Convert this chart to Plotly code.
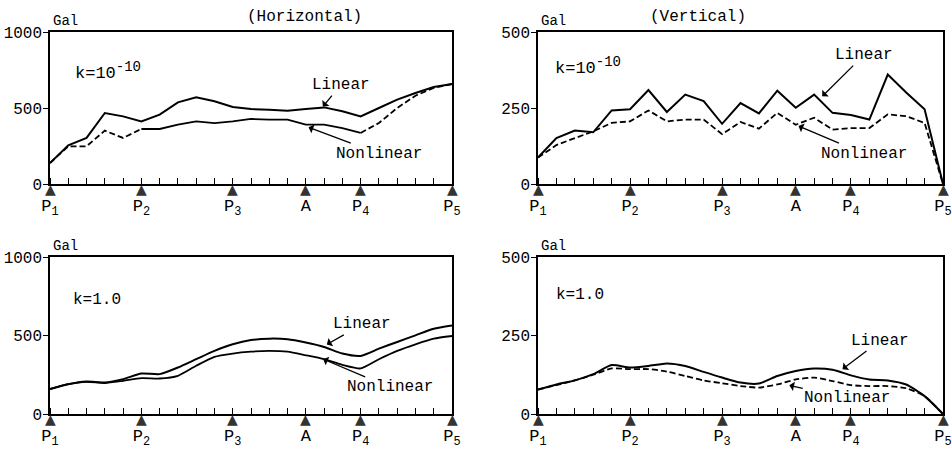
import plotly.graph_objects as go

# ---------------- data ----------------
nodes = list(range(23))
station_pos = [0, 5, 10, 14, 17, 22]
station_text = ["P<sub>1</sub>", "P<sub>2</sub>", "P<sub>3</sub>", "A", "P<sub>4</sub>", "P<sub>5</sub>"]

h_k10_linear = [138, 254, 303, 467, 445, 412, 456, 537, 570, 544, 507, 493, 489, 482, 493, 504, 478, 445, 500, 555, 599, 638, 658]
h_k10_nonlinear = [138, 248, 248, 351, 303, 362, 362, 390, 412, 401, 412, 428, 423, 423, 390, 390, 368, 336, 401, 500, 581, 632, 658]

v_k10_linear = [87, 151, 176, 170, 242, 246, 309, 237, 294, 273, 198, 266, 232, 307, 251, 294, 234, 227, 212, 360, 301, 246, 0]
v_k10_nonlinear = [87, 128, 151, 173, 201, 206, 242, 206, 212, 212, 164, 204, 182, 234, 195, 218, 179, 184, 184, 229, 223, 201, 0]

h_k1_linear = [159, 190, 207, 201, 222, 258, 254, 296, 349, 402, 444, 471, 480, 476, 455, 427, 385, 370, 416, 459, 501, 543, 564]
h_k1_nonlinear = [159, 190, 205, 197, 211, 228, 226, 243, 307, 364, 385, 397, 402, 397, 374, 349, 313, 290, 349, 402, 444, 480, 497]

v_k1_linear = [78, 94, 107, 127, 156, 148, 153, 161, 153, 134, 116, 100, 97, 121, 137, 145, 141, 123, 110, 107, 94, 57, 0]
v_k1_nonlinear = [78, 92, 107, 125, 145, 143, 143, 135, 121, 107, 98, 89, 84, 94, 110, 116, 105, 92, 89, 89, 82, 57, 0]

h_ticks = [0, 500, 1000]
v_ticks = [0, 250, 500]

# ---------------- layout geometry ----------------
W, H = 952, 450
FONT = "Liberation Mono, Courier New, monospace"
col_x = [(50, 452), (538, 943)]
row_y = [(32, 184), (257, 414)]
DASH = "6px,3px"

K10 = "k=10<sup><span style='font-size:14px'>-10</span></sup>"
panels = [
    (0, 0, h_k10_linear, h_k10_nonlinear, h_ticks, K10, 17, False,
     [(0, 5, DASH), (5, 17, "solid"), (17, 22, DASH)],
     dict(k=(3.2, 745), lin=(15.9, 650, 14.9, 504), non=(18.0, 200, 14.1, 375))),
    (0, 1, v_k10_linear, v_k10_nonlinear, v_ticks, K10, 17, False,
     [(0, 22, DASH)],
     dict(k=(2.7, 388), lin=(17.7, 424, 15.4, 286), non=(17.7, 100, 14.1, 192))),
    (1, 0, h_k1_linear, h_k1_nonlinear, h_ticks, "k=1.0", 16, True,
     [(0, 22, "solid")],
     dict(k=(2.55, 729), lin=(17.1, 571, 15.1, 440), non=(18.6, 169, 14.9, 352))),
    (1, 1, v_k1_linear, v_k1_nonlinear, v_ticks, "k=1.0", 16, True,
     [(0, 22, DASH)],
     dict(k=(2.3, 379), lin=(18.6, 234, 16.5, 141), non=(16.8, 51, 13.6, 92))),
]

fig = go.Figure()
annotations = []

for idx, (r, c, lin, non, yt, ktext, ksize, spline, segs, ann) in enumerate(panels):
    n = idx + 1
    xa = "x" if n == 1 else f"x{n}"
    ya = "y" if n == 1 else f"y{n}"
    xaxis_key = "xaxis" if n == 1 else f"xaxis{n}"
    yaxis_key = "yaxis" if n == 1 else f"yaxis{n}"
    x0, x1 = col_x[c]
    yt0, yb0 = row_y[r]
    ymax = yt[-1]
    shape = "spline" if spline else "linear"

    fig.add_trace(go.Scatter(x=nodes, y=lin, mode="lines", xaxis=xa, yaxis=ya,
                             line=dict(color="black", width=2, shape=shape, smoothing=0.6),
                             showlegend=False, hoverinfo="skip"))
    for s0, s1, dash in segs:
        fig.add_trace(go.Scatter(x=nodes[s0:s1 + 1], y=non[s0:s1 + 1], mode="lines", xaxis=xa, yaxis=ya,
                                 line=dict(color="black", width=1.8, dash=dash, shape=shape, smoothing=0.6),
                                 showlegend=False, hoverinfo="skip"))

    for sp in station_pos:
        annotations.append(dict(text="▲", xref=xa, yref=ya, x=sp, y=0,
                                xanchor="center", yanchor="top", yshift=4,
                                showarrow=False, borderpad=0,
                                font=dict(family="DejaVu Sans", size=14, color="#333333")))

    fig.layout[xaxis_key] = dict(
        domain=[x0 / W, x1 / W], anchor=ya, range=[0, 22],
        tickmode="array", tickvals=station_pos, ticktext=station_text,
        ticks="", showgrid=False, zeroline=False,
        showline=True, linecolor="black", linewidth=1.5, mirror=True,
        tickfont=dict(family=FONT, size=17, color="black"),
        ticklabelstandoff=5,
        minor=dict(tickmode="array", tickvals=nodes, ticks="inside", ticklen=6,
                   tickcolor="black", tickwidth=1.3),
    )
    fig.layout[yaxis_key] = dict(
        domain=[1 - yb0 / H, 1 - yt0 / H], anchor=xa, range=[0, ymax],
        tickmode="array", tickvals=yt, ticks="outside", ticklen=5,
        tickcolor="black", tickwidth=1.3,
        showgrid=False, zeroline=False,
        showline=True, linecolor="black", linewidth=1.5, mirror=True,
        tickfont=dict(family=FONT, size=16, color="black"),
        ticklabelstandoff=-2,
    )

    annotations.append(dict(text="Gal", xref="paper", yref="paper",
                            x=(x0 + 1) / W, y=1 - (yt0 - 1) / H, xanchor="left", yanchor="bottom",
                            showarrow=False, font=dict(family=FONT, size=14, color="black")))
    kx, ky = ann["k"]
    annotations.append(dict(text=ktext, xref=xa, yref=ya, x=kx, y=ky, showarrow=False,
                            font=dict(family=FONT, size=ksize, color="black")))
    for key, label in (("lin", "Linear"), ("non", "Nonlinear")):
        tx, ty, hx, hy = ann[key]
        annotations.append(dict(text=label, xref=xa, yref=ya, x=hx, y=hy,
                                axref=xa, ayref=ya, ax=tx, ay=ty,
                                showarrow=True, arrowhead=1, arrowsize=1.2, arrowwidth=1.3,
                                arrowcolor="black", standoff=1,
                                font=dict(family=FONT, size=16, color="black")))

annotations.append(dict(text="(Horizontal)", xref="paper", yref="paper", x=245 / W, y=1 - 28 / H,
                        yanchor="bottom", showarrow=False, font=dict(family=FONT, size=16, color="black")))
annotations.append(dict(text="(Vertical)", xref="paper", yref="paper", x=748 / W, y=1 - 28 / H,
                        yanchor="bottom", showarrow=False, font=dict(family=FONT, size=16, color="black")))

fig.update_layout(
    width=W, height=H,
    margin=dict(l=0, r=0, t=0, b=0, autoexpand=False),
    paper_bgcolor="white", plot_bgcolor="white",
    annotations=annotations,
    showlegend=False,
)

fig.write_html("out.html", config={"displayModeBar": False},
               post_script="document.body.style.margin='0px';")
